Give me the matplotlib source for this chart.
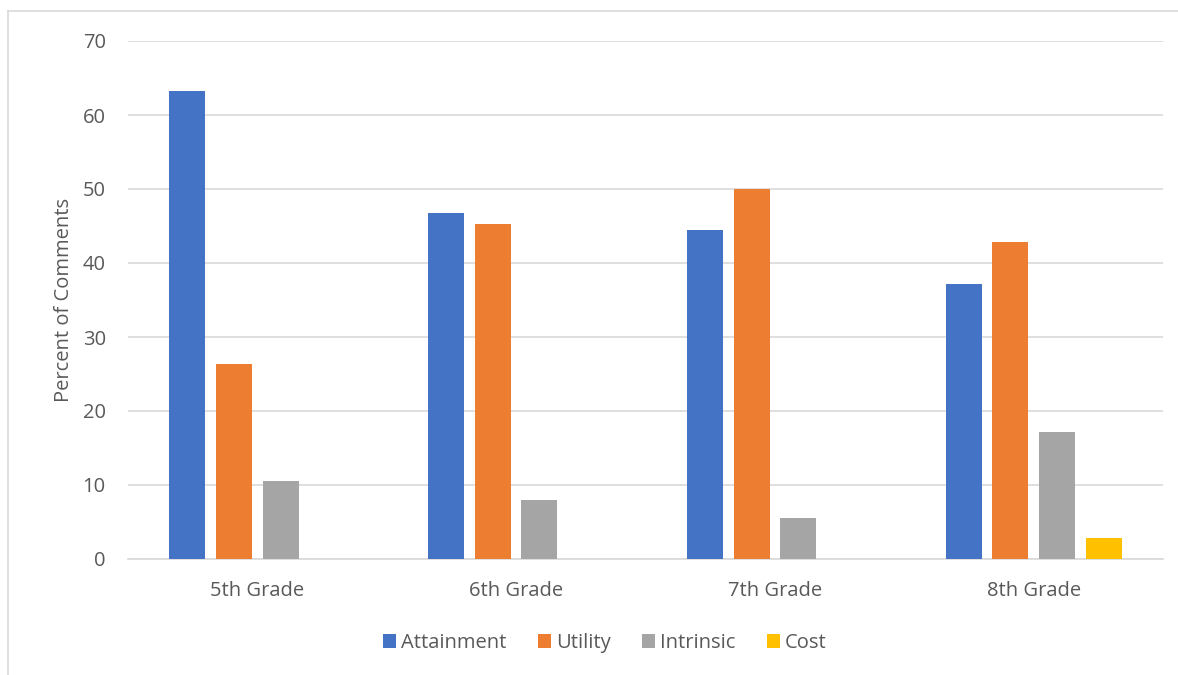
import matplotlib.pyplot as plt
import numpy as np
from matplotlib.lines import Line2D

grades = ["5th Grade", "6th Grade", "7th Grade", "8th Grade"]
attainment = [63.2, 46.7, 44.4, 37.1]
utility = [26.3, 45.3, 50.0, 42.9]
intrinsic = [10.5, 8.0, 5.6, 17.1]
cost = [0, 0, 0, 2.9]

series = [
    ("Attainment", attainment, "#4472C4"),
    ("Utility", utility, "#ED7D31"),
    ("Intrinsic", intrinsic, "#A5A5A5"),
    ("Cost", cost, "#FFC000"),
]

plt.rcParams['font.family'] = ['Open Sans', 'DejaVu Sans']
text_color = "#595959"
fs = 14.5

fig = plt.figure(figsize=(11.78, 6.75), dpi=100)
ax = fig.add_axes([128/1178, 1 - 559/675, (1163-128)/1178, (559-41)/675])

x = np.arange(len(grades))
pitch = 0.1805
width = 0.139
for i, (name, vals, color) in enumerate(series):
    offs = (i - 1.5) * pitch
    ax.bar(x + offs, vals, width, color=color, label=name, zorder=3)

ax.set_xlim(-0.5, len(grades) - 0.5)
ax.set_ylim(0, 70)
ax.set_yticks(range(0, 71, 10))
ax.set_xticks(x)
ax.set_xticklabels(grades)
ax.yaxis.grid(True, color="#D9D9D9", linewidth=1.2, zorder=0)
for s in ["top", "right", "left"]:
    ax.spines[s].set_visible(False)
ax.spines["bottom"].set_color("#D9D9D9")
ax.spines["bottom"].set_linewidth(1.2)
ax.tick_params(axis="both", length=0, labelsize=fs, colors=text_color)
ax.tick_params(axis="x", pad=16)
ax.tick_params(axis="y", pad=16)
ax.set_ylabel("Percent of Comments", fontsize=fs, color=text_color, labelpad=6)

leg = fig.legend(loc="center", bbox_to_anchor=(605/1178, 1 - 643/675), ncol=4,
                 frameon=False, fontsize=fs, handlelength=0.65, handleheight=0.65,
                 handletextpad=0.25, columnspacing=1.55)
for t in leg.get_texts():
    t.set_color(text_color)

# chart area border (left and top only visible)
fig.add_artist(Line2D([8/1178, 8/1178], [0, 1 - 11/675], color="#D9D9D9", linewidth=1.2))
fig.add_artist(Line2D([8/1178, 1], [1 - 11/675, 1 - 11/675], color="#D9D9D9", linewidth=1.2))

fig.savefig("out.png", dpi=100)
